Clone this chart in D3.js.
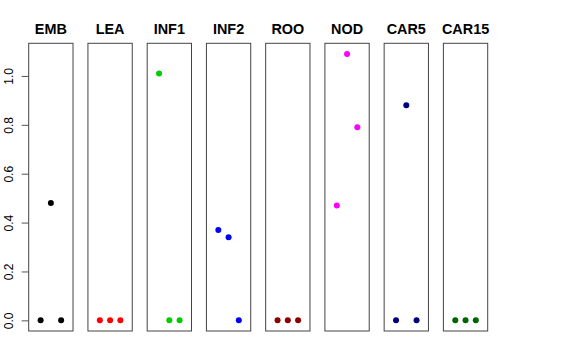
<!DOCTYPE html>
<html>
<head>
<meta charset="utf-8">
<script src="https://cdn.jsdelivr.net/npm/d3@7"></script>
<style>
  body { margin: 0; background: #fff; }
  text { font-family: "Liberation Sans", Arial, Helvetica, sans-serif; }
</style>
</head>
<body>
<svg id="chart"></svg>
<script>
// panels and their point values (3 samples each)
const tissues = ['EMB', 'LEA', 'INF1', 'INF2', 'ROO', 'NOD', 'CAR5', 'CAR15'];
const colours = ['#000000', '#ff0000', '#00cd00', '#0000ff', '#8b0000', '#ff00ff', '#000080', '#006400'];
const values = [
  [0, 0.48, 0],
  [0, 0, 0],
  [1.01, 0, 0],
  [0.37, 0.34, 0],
  [0, 0, 0],
  [0.47, 1.09, 0.79],
  [0, 0.88, 0],
  [0, 0, 0]
];
const yTicks = [0, 0.2, 0.4, 0.6, 0.8, 1.0];

const width = 576, height = 360;
const plotTop = 43.3, plotBottom = 331;

const svg = d3.select('#chart')
    .attr('width', width)
    .attr('height', height);

// R style 4% padding on the y range
const yMax = d3.max(values.flat());
const pad = yMax * 0.04;
const yScale = d3.scaleLinear()
    .domain([-pad, yMax + pad])
    .range([plotBottom, plotTop]);

const panel = d3.scaleBand()
    .domain(tissues)
    .range([28.7, 487.7])
    .paddingInner(0.252)
    .paddingOuter(0);

// x inside each panel: xlim 0..4, points at 1,2,3
const xScale = d3.scaleLinear()
    .domain([-0.16, 4.16])
    .range([0, panel.bandwidth()]);

// y axis on the first panel
const yAxis = d3.axisLeft(yScale)
    .tickValues(yTicks)
    .tickSize(7)
    .tickSizeOuter(0)
    .tickFormat(d3.format('.1f'));

const axisG = svg.append('g')
    .attr('transform', `translate(${panel(tissues[0])},0)`)
    .call(yAxis);
axisG.select('.domain').remove();
axisG.selectAll('.tick line').attr('stroke', '#555');
axisG.selectAll('.tick text')
    .attr('x', null).attr('dy', null)
    .attr('transform', `translate(${12.5 - panel(tissues[0])},0) rotate(-90)`)
    .attr('text-anchor', 'middle')
    .attr('font-size', '12px')
    .attr('fill', '#000');

tissues.forEach((t, i) => {
  const g = svg.append('g')
      .attr('transform', `translate(${panel(t)},0)`);

  g.append('rect')
      .attr('x', 0)
      .attr('y', plotTop)
      .attr('width', panel.bandwidth())
      .attr('height', plotBottom - plotTop)
      .attr('fill', 'none')
      .attr('stroke', '#444')
      .attr('stroke-width', 1);

  g.append('text')
      .attr('x', panel.bandwidth() / 2)
      .attr('y', 34)
      .attr('text-anchor', 'middle')
      .attr('font-size', '14.4px')
      .attr('font-weight', 'bold')
      .text(t);

  g.selectAll('circle')
      .data(values[i])
      .join('circle')
      .attr('cx', (d, j) => xScale(j + 1))
      .attr('cy', d => yScale(d))
      .attr('r', 3)
      .attr('fill', colours[i]);
});
</script>
</body>
</html>
